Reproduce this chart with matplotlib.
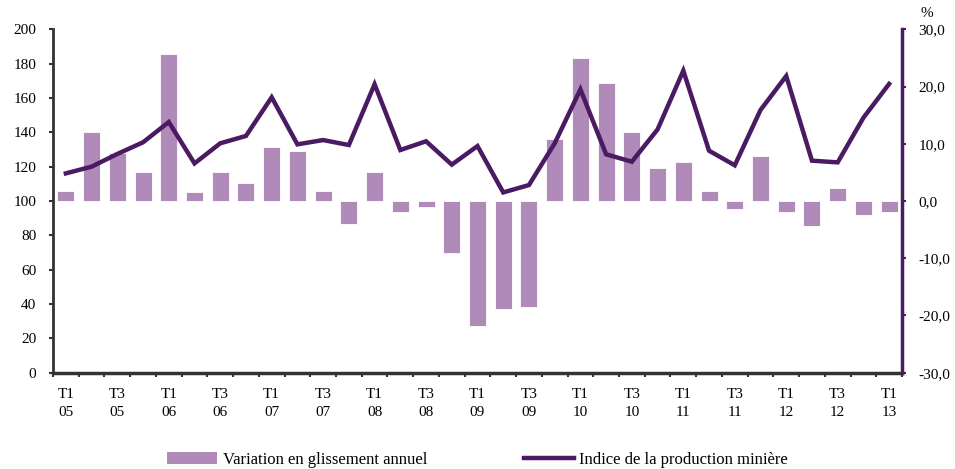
import numpy as np
import matplotlib.pyplot as plt
from matplotlib.patches import Patch
from matplotlib.lines import Line2D

plt.rcParams['font.family'] = ['Liberation Serif', 'DejaVu Serif']
plt.rcParams['font.size'] = 11

# Quarterly data, T1 2005 -> T1 2013
quarters = ['T1', 'T2', 'T3', 'T4']
years = ['05', '06', '07', '08', '09', '10', '11', '12', '13']
periods = [(q, y) for y in years for q in quarters][:33]

# Annual variation (%), right axis
variation = [1.8, 12.1, 8.4, 5.1, 25.6, 1.5, 5.1, 3.1, 9.5, 8.8, 1.8, -4.1,
             5.1, -2.0, -1.1, -9.0, -21.9, -18.9, -18.6, 10.8, 25.0, 20.7,
             12.1, 5.8, 6.8, 1.8, -1.4, 7.9, -2.0, -4.4, 2.2, -2.4, -2.0]

# Mining production index, left axis
indice = [116.1, 120.0, 127.4, 134.2, 146.0, 121.9, 133.6, 137.9, 160.4,
          133.0, 135.5, 132.6, 168.0, 129.7, 134.8, 121.2, 132.0, 105.0,
          109.3, 133.6, 165.0, 127.2, 122.9, 141.7, 175.9, 129.3, 120.8,
          153.0, 172.8, 123.5, 122.5, 148.5, 168.2]

bar_color = '#b08ab9'
line_color = '#4a1a63'
spine_gray = '#333333'

x = np.arange(len(periods))

fig = plt.figure(figsize=(9.55, 4.69), dpi=100)
ax = fig.add_axes([0.0555, 0.2053, 0.889, 0.7322])
ax2 = ax.twinx()

ax2.bar(x, variation, width=0.66, color=bar_color, edgecolor='white', linewidth=0.6)
ax.plot(x, indice, color=line_color, linewidth=3.2, solid_joinstyle='miter')

ax.set_zorder(ax2.get_zorder() + 1)
ax.patch.set_visible(False)

ax.set_xlim(-0.5, len(periods) - 0.5)
ax.set_ylim(0, 200)
ax.set_yticks(np.arange(0, 201, 20))
ax2.set_ylim(-30, 30)
ax2.set_yticks(np.arange(-30, 31, 10))
ax2.set_yticklabels([f'{v:.1f}'.replace('.', ',') for v in np.arange(-30, 31, 10)])

# category labels every two quarters, ticks at boundaries
lab_idx = x[::2]
ax.set_xticks(lab_idx)
ax.set_xticklabels([f'{periods[i][0]}\n{periods[i][1]}' for i in lab_idx], linespacing=1.5)
ax.set_xticks(np.arange(-0.5, len(periods), 1), minor=True)
ax.tick_params(axis='x', which='major', length=0, pad=11)
ax.tick_params(axis='x', which='minor', length=3, width=1.5, color=spine_gray, direction='out')
ax.tick_params(axis='y', length=3, width=1.5, color=spine_gray, pad=9)
ax2.tick_params(axis='y', length=3, width=1.5, color=line_color, pad=9)

for a in (ax, ax2):
    a.spines['top'].set_visible(False)
ax.spines['right'].set_visible(False)
ax2.spines['left'].set_visible(False)
ax2.spines['bottom'].set_visible(False)
ax.spines['left'].set_color(spine_gray)
ax.spines['left'].set_linewidth(2)
ax.spines['bottom'].set_color(spine_gray)
ax.spines['bottom'].set_linewidth(2.5)
ax2.spines['right'].set_color(line_color)
ax2.spines['right'].set_linewidth(2.5)

fig.text(0.971, 0.972, '%', ha='center', va='center', fontsize=11)

handles = [Patch(facecolor=bar_color, label='Variation en glissement annuel'),
           Line2D([0], [0], color=line_color, linewidth=3.2, label='Indice de la production minière')]
fig.legend(handles=handles, loc='lower center', bbox_to_anchor=(0.5, -0.03), ncol=2,
           frameon=False, fontsize=12, handlelength=3.0, handleheight=0.7,
           columnspacing=5.8, handletextpad=0.35)

fig.savefig('out.png', dpi=100)
